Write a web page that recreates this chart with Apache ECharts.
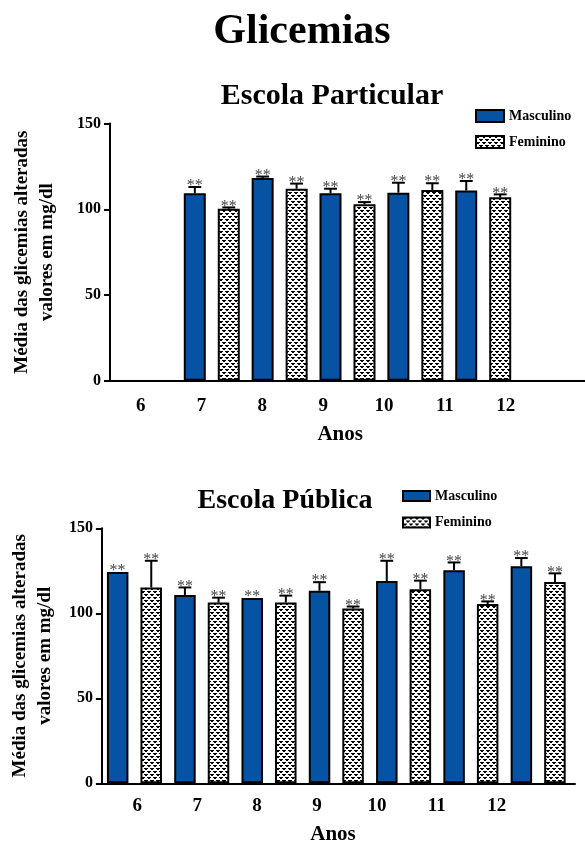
<!DOCTYPE html>
<html>
<head>
<meta charset="utf-8">
<script src="https://cdn.jsdelivr.net/npm/echarts@6/dist/echarts.min.js"></script>
<style>html,body{margin:0;padding:0;background:#fff}#c{width:585px;height:846px}</style>
</head>
<body>
<div id="c"></div>
<script>
// ---- data ----
const years = ['6', '7', '8', '9', '10', '11', '12'];
const yTicks = [0, 50, 100, 150];
// Escola Particular
const partMasc = [null, 109.3, 118.3, 109.3, 109.7, 110.9, null];
const partMascSem = [null, 3.7, 0.8, 2.7, 5.8, 5.6, null];
const partFem = [null, 100.3, 112.0, 103.0, 111.3, 107.0, null];
const partFemSem = [null, 0.8, 3.0, 1.2, 3.9, 1.7, null];
// Escola Pública
const pubMasc = [124.3, 110.8, 109.0, 113.3, 119.0, 125.3, 127.7];
const pubMascSem = [0, 4.4, 0, 5.0, 11.9, 4.6, 4.8];
const pubFem = [115.2, 106.3, 106.4, 102.8, 114.2, 105.4, 118.4];
const pubFemSem = [15.7, 2.9, 4.0, 1.2, 5.0, 1.6, 5.1];

const SERIF = '"Liberation Serif", "Times New Roman", serif';
const BLUE = '#0652a3';

function makePattern() {
  const c = document.createElement('canvas');
  c.width = 6; c.height = 6;
  const g = c.getContext('2d');
  g.fillStyle = '#fff'; g.fillRect(0, 0, 6, 6);
  g.fillStyle = '#000';
  g.fillRect(0, 0, 4, 1); g.fillRect(1, 1, 2, 1);
  g.fillRect(3, 3, 3, 1); g.fillRect(0, 3, 1, 1); g.fillRect(4, 4, 2, 1);
  return c;
}
const pattern = { image: makePattern(), repeat: 'repeat' };

function errData(vals, sems) {
  const out = [];
  vals.forEach((v, i) => { if (v != null) out.push([i, v, sems[i]]); });
  return out;
}
function errRender(side) {
  return function (params, api) {
    const cat = api.value(0), v = api.value(1), s = api.value(2);
    const band = api.size([1, 0])[0];
    const base = api.coord([cat, v]);
    const top = api.coord([cat, v + s]);
    const x = base[0] + side * band / 4;
    const half = band * 0.095;
    const children = [];
    if (s > 0) {
      children.push({ type: 'line', shape: { x1: x, y1: base[1], x2: x, y2: top[1] }, style: { stroke: '#000', lineWidth: 2 } });
      children.push({ type: 'line', shape: { x1: x - half, y1: top[1], x2: x + half, y2: top[1] }, style: { stroke: '#000', lineWidth: 2 } });
    }
    children.push({ type: 'text', x: x, y: top[1] - 1, style: { text: '**', font: '16px ' + SERIF, fill: '#444', align: 'center', verticalAlign: 'middle' } });
    return { type: 'group', children: children };
  };
}

const tickLabel = { fontFamily: SERIF, fontWeight: 'bold', fontSize: 16, color: '#000' };
const yearLabel = { fontFamily: SERIF, fontWeight: 'bold', fontSize: 19, color: '#000', margin: 16 };
const yName = 'Média das glicemias alteradas\nvalores em mg/dl';
const yNameStyle = { fontFamily: SERIF, fontWeight: 'bold', fontSize: 19, color: '#000', lineHeight: 25 };
const anosStyle = { fontFamily: SERIF, fontWeight: 'bold', fontSize: 21, color: '#000', lineHeight: 21 };
const blackLine = { show: true, lineStyle: { color: '#000', width: 2 } };

function visibleY(gi, gap, margin) {
  return {
    gridIndex: gi, type: 'value', min: 0, max: 150, interval: 50,
    axisLine: blackLine, axisTick: { show: true, length: 6, lineStyle: { color: '#000', width: 2 } },
    axisLabel: Object.assign({ margin: margin }, tickLabel), splitLine: { show: false },
    name: yName, nameLocation: 'middle', nameRotate: 90, nameGap: gap, nameTextStyle: yNameStyle
  };
}
function hiddenY(gi) { return { gridIndex: gi, type: 'value', min: 0, max: 150, interval: 50, show: false }; }

const legendText = { fontFamily: SERIF, fontWeight: 'bold', fontSize: 14, color: '#000' };
const legendData = [
  { name: 'Masculino', icon: 'rect', itemStyle: { color: BLUE, borderColor: '#000', borderWidth: 2 } },
  { name: 'Feminino', icon: 'rect', itemStyle: { color: pattern, borderColor: '#000', borderWidth: 2 } }
];

const option = {
  animation: false,
  graphic: [
    { type: 'text', x: 302, y: 32, style: { text: 'Glicemias', font: 'bold 42px ' + SERIF, fill: '#000', align: 'center', verticalAlign: 'middle' } },
    { type: 'text', x: 332, y: 96, style: { text: 'Escola Particular', font: 'bold 30px ' + SERIF, fill: '#000', align: 'center', verticalAlign: 'middle' } },
    { type: 'text', x: 285, y: 501, style: { text: 'Escola Pública', font: 'bold 28px ' + SERIF, fill: '#000', align: 'center', verticalAlign: 'middle' } }
  ],
  legend: [
    { left: 470, top: 104, orient: 'vertical', icon: 'rect', itemWidth: 28, itemHeight: 12, itemGap: 12, itemTextGap: 14,
      textStyle: legendText, data: legendData, selectedMode: false },
    { left: 397, top: 484, orient: 'vertical', icon: 'rect', itemWidth: 27, itemHeight: 10, itemGap: 12.5, itemTextGap: 11,
      textStyle: legendText, data: legendData, selectedMode: false }
  ],
  grid: [
    { left: 110, top: 123.6, width: 476, height: 257.1 },
    { left: 140.7, top: 123.6, width: 365, height: 257.1 },
    { left: 87, top: 528.3, width: 488, height: 255 },
    { left: 100.8, top: 528.3, width: 471, height: 255 },
    { left: 137.3, top: 528.3, width: 359.4, height: 255 }
  ],
  xAxis: [
    { gridIndex: 0, type: 'category', data: years, axisLine: blackLine, axisTick: { show: false }, axisLabel: { show: false } },
    { gridIndex: 1, type: 'category', data: years, boundaryGap: false, axisLine: { show: false }, axisTick: { show: false }, axisLabel: yearLabel,
      name: 'Anos', nameLocation: 'middle', nameGap: 43, nameTextStyle: Object.assign({ padding: [0, 0, 0, 34] }, anosStyle) },
    { gridIndex: 2, type: 'category', data: years, axisLine: blackLine, axisTick: { show: false }, axisLabel: { show: false } },
    { gridIndex: 3, type: 'category', data: years, show: false },
    { gridIndex: 4, type: 'category', data: years, boundaryGap: false, axisLine: { show: false }, axisTick: { show: false }, axisLabel: yearLabel,
      name: 'Anos', nameLocation: 'middle', nameGap: 43, nameTextStyle: Object.assign({ padding: [0, 0, 0, 32] }, anosStyle) }
  ],
  yAxis: [visibleY(0, 50, 9), hiddenY(1), visibleY(2, 37, 9), hiddenY(3), hiddenY(4)],
  series: [
    { name: 'Masculino', type: 'bar', xAxisIndex: 0, yAxisIndex: 0, data: partMasc, barWidth: 22, barGap: '54.5%',
      itemStyle: { color: BLUE, borderColor: '#000', borderWidth: 2 } },
    { name: 'Feminino', type: 'bar', xAxisIndex: 0, yAxisIndex: 0, data: partFem, barWidth: 22, barGap: '54.5%',
      itemStyle: { color: pattern, borderColor: '#000', borderWidth: 2 } },
    { type: 'custom', xAxisIndex: 0, yAxisIndex: 0, data: errData(partMasc, partMascSem), encode: { x: 0, y: 1 }, renderItem: errRender(-1), z: 5 },
    { type: 'custom', xAxisIndex: 0, yAxisIndex: 0, data: errData(partFem, partFemSem), encode: { x: 0, y: 1 }, renderItem: errRender(1), z: 5 },
    { name: 'Masculino', type: 'bar', xAxisIndex: 3, yAxisIndex: 3, data: pubMasc, barWidth: 21.5, barGap: '56%',
      itemStyle: { color: BLUE, borderColor: '#000', borderWidth: 2 } },
    { name: 'Feminino', type: 'bar', xAxisIndex: 3, yAxisIndex: 3, data: pubFem, barWidth: 21.5, barGap: '56%',
      itemStyle: { color: pattern, borderColor: '#000', borderWidth: 2 } },
    { type: 'custom', xAxisIndex: 3, yAxisIndex: 3, data: errData(pubMasc, pubMascSem), encode: { x: 0, y: 1 }, renderItem: errRender(-1), z: 5 },
    { type: 'custom', xAxisIndex: 3, yAxisIndex: 3, data: errData(pubFem, pubFemSem), encode: { x: 0, y: 1 }, renderItem: errRender(1), z: 5 }
  ]
};
const chart = echarts.init(document.getElementById('c'), null, { renderer: 'canvas' });
chart.setOption(option);
</script>
</body>
</html>
